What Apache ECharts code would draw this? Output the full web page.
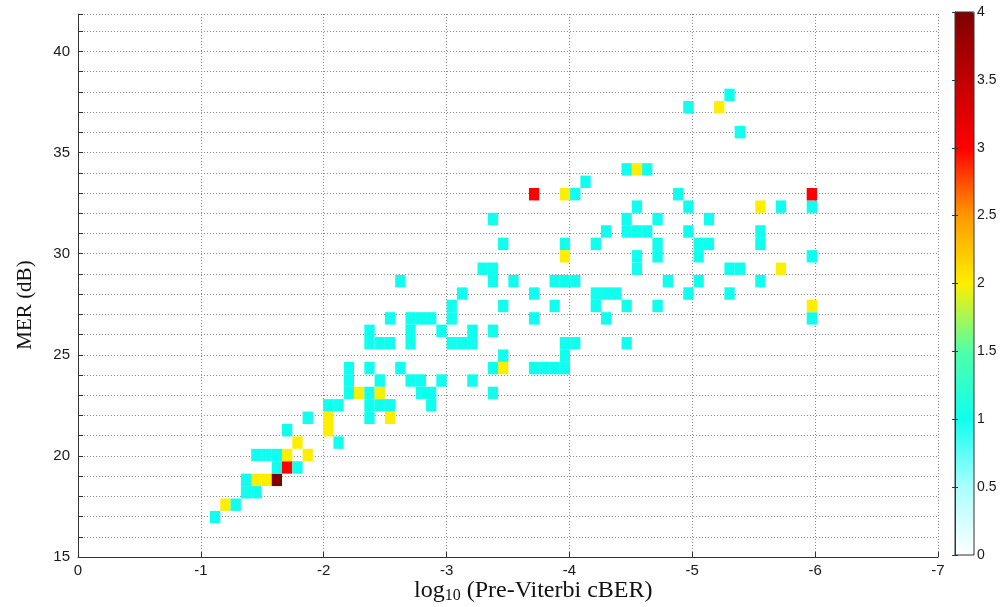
<!DOCTYPE html>
<html>
<head>
<meta charset="utf-8">
<script src="https://cdn.jsdelivr.net/npm/echarts@6/dist/echarts.min.js"></script>
<style>
html,body{margin:0;padding:0;background:#fff;}
#chart{width:1001px;height:607px;}
</style>
</head>
<body>
<div id="chart"></div>
<script>
// 2-D histogram bins: log10(Pre-Viterbi cBER) (x) vs MER in dB (y)
const xBinStart = -1.0744;   // first bin edge (log10 cBER)
const xBinWidth = 0.08374;   // bins run towards more negative values
const yBinStart = 16.665;    // first bin edge (MER dB)
const yBinHeight = 0.6141;

// [row, column, count]
const cellBins = [
  [0,0,1],
  [1,1,2],[1,2,1],
  [2,3,1],[2,4,1],
  [3,3,1],[3,4,2],[3,5,2],[3,6,4],
  [4,6,1],[4,7,3],[4,8,1],
  [5,4,1],[5,5,1],[5,6,1],[5,7,2],[5,9,2],
  [6,8,2],[6,12,1],
  [7,7,1],[7,11,2],
  [8,9,1],[8,11,2],[8,15,1],[8,17,2],
  [9,11,1],[9,12,1],[9,15,1],[9,16,1],[9,17,1],[9,21,1],
  [10,13,1],[10,14,2],[10,15,1],[10,16,2],[10,20,1],[10,21,1],[10,27,1],
  [11,13,1],[11,16,1],[11,19,1],[11,20,1],[11,22,1],[11,25,1],
  [12,13,1],[12,15,1],[12,18,1],[12,27,1],[12,28,2],[12,31,1],[12,32,1],[12,33,1],[12,34,1],
  [13,28,1],[13,34,1],
  [14,15,1],[14,16,1],[14,17,1],[14,19,1],[14,23,1],[14,24,1],[14,25,1],[14,34,1],[14,35,1],[14,40,1],
  [15,15,1],[15,19,1],[15,22,1],[15,25,1],[15,27,1],
  [16,17,1],[16,19,1],[16,20,1],[16,21,1],[16,23,1],[16,31,1],[16,38,1],[16,58,1],
  [17,23,1],[17,28,1],[17,33,1],[17,37,1],[17,40,1],[17,43,1],[17,58,2],
  [18,24,1],[18,31,1],[18,37,1],[18,38,1],[18,39,1],[18,46,1],[18,50,1],
  [19,18,1],[19,27,1],[19,29,1],[19,33,1],[19,34,1],[19,35,1],[19,44,1],[19,47,1],[19,53,1],
  [20,26,1],[20,27,1],[20,41,1],[20,50,1],[20,51,1],[20,55,2],
  [21,34,2],[21,41,1],[21,43,1],[21,47,1],[21,58,1],
  [22,28,1],[22,34,1],[22,37,1],[22,43,1],[22,47,1],[22,48,1],[22,53,1],
  [23,38,1],[23,40,1],[23,41,1],[23,42,1],[23,46,1],[23,53,1],
  [24,27,1],[24,40,1],[24,43,1],[24,48,1],
  [25,41,1],[25,46,1],[25,53,2],[25,55,1],[25,58,1],
  [26,31,3],[26,34,2],[26,35,1],[26,45,1],[26,58,3],
  [27,36,1],
  [28,40,1],[28,41,2],[28,42,1],
  [31,51,1],
  [33,46,1],[33,49,2],
  [34,50,1]
];

const colorbarStops = ['#ffffff','#aaffff','#10ffef','#50ffa8','#ffee00','#ff9900','#ff0000','#c00000','#800000'];

// convert bins to data values (bin centres)
const cellData = cellBins.map(([r, c, n]) => [
  xBinStart - (c + 0.5) * xBinWidth,
  yBinStart + (r + 0.5) * yBinHeight,
  n
]);

const chart = echarts.init(document.getElementById('chart'), null, {renderer: 'canvas'});
const gridLine = {show: true, lineStyle: {color: '#8a8a8a', type: [1, 2], width: 1}};
const tickFont = {fontFamily: 'Liberation Sans, Arial, sans-serif', fontSize: 15, color: '#1a1a1a'};
const serif = 'Liberation Serif, Times New Roman, serif';

chart.setOption({
  animation: false,
  backgroundColor: '#ffffff',
  grid: [
    {left: 78, right: 63, top: 14, bottom: 50},
    {left: 955, width: 19, top: 12, height: 543, show: true, borderColor: '#333', borderWidth: 1, backgroundColor: 'transparent', z: 5}
  ],
  xAxis: [
    {
      type: 'value', gridIndex: 0, min: -7, max: 0, interval: 1, inverse: true,
      axisLine: {show: true, onZero: false, lineStyle: {color: '#333'}},
      axisTick: {show: true, inside: true, length: 5, lineStyle: {color: '#333'}},
      axisLabel: Object.assign({margin: 6}, tickFont),
      splitLine: gridLine
    },
    {type: 'value', gridIndex: 1, min: 0, max: 1, show: false}
  ],
  yAxis: [
    {
      type: 'value', gridIndex: 0, min: 15, max: 41.85, interval: 1,
      axisLine: {show: true, onZero: false, lineStyle: {color: '#333'}},
      axisTick: {show: true, inside: true, length: 5, lineStyle: {color: '#333'}},
      axisLabel: Object.assign({margin: 8, formatter: v => (v % 5 === 0 ? String(v) : '')}, tickFont),
      splitLine: gridLine
    },
    {
      type: 'value', gridIndex: 1, position: 'right', min: 0, max: 4, interval: 0.5, z: 5,
      axisLine: {show: true, lineStyle: {color: '#333'}},
      axisTick: {show: true, inside: true, length: 3, lineStyle: {color: '#333'}},
      axisLabel: Object.assign({margin: 3}, tickFont, {fontSize: 14}),
      splitLine: {show: false}
    },
    {
      type: 'value', gridIndex: 1, position: 'left', min: 0, max: 4, interval: 0.5, z: 5,
      axisLine: {show: true, lineStyle: {color: '#333'}},
      axisTick: {show: true, inside: true, length: 3, lineStyle: {color: '#333'}},
      axisLabel: {show: false},
      splitLine: {show: false}
    }
  ],
  visualMap: {
    type: 'continuous', min: 0, max: 4, dimension: 2, seriesIndex: 0,
    left: 955, top: 12, itemWidth: 19, itemHeight: 543, padding: 0,
    calculable: false, realtime: false, text: null, showLabel: false, z: 1,
    inRange: {color: colorbarStops}
  },
  series: [{
    type: 'custom',
    xAxisIndex: 0, yAxisIndex: 0,
    data: cellData,
    encode: {x: 0, y: 1},
    renderItem: function (params, api) {
      const xc = api.value(0), yc = api.value(1);
      const p0 = api.coord([xc + xBinWidth / 2, yc + yBinHeight / 2]);
      const p1 = api.coord([xc - xBinWidth / 2, yc - yBinHeight / 2]);
      return {
        type: 'rect',
        shape: {
          x: Math.min(p0[0], p1[0]), y: Math.min(p0[1], p1[1]),
          width: Math.abs(p1[0] - p0[0]), height: Math.abs(p1[1] - p0[1])
        },
        style: {fill: api.visual('color')}
      };
    }
  }],
  graphic: [
    {
      type: 'text', left: 414, top: 579,
      style: {
        text: '{a|log}{s|10}{a| (Pre-Viterbi cBER)}',
        rich: {
          a: {fontFamily: serif, fontSize: 24, fill: '#111'},
          s: {fontFamily: serif, fontSize: 16, fill: '#111', padding: [9, 0, 0, 0]}
        }
      }
    },
    {
      type: 'text', x: 25, y: 305, rotation: Math.PI / 2,
      style: {
        text: 'MER (dB)', align: 'center', verticalAlign: 'middle',
        fontFamily: serif, fontSize: 21, fill: '#111'
      }
    }
  ]
});
</script>
</body>
</html>
